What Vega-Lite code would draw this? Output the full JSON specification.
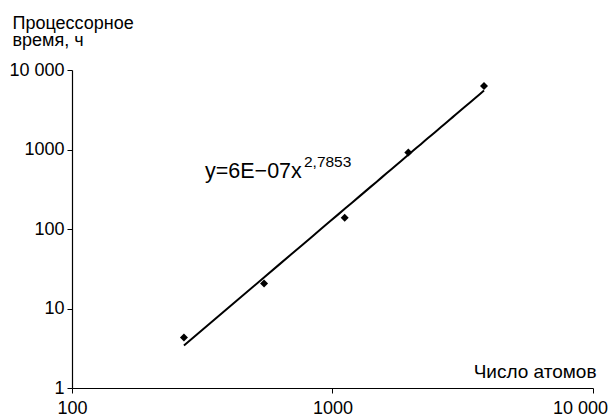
{
  "$schema": "https://vega.github.io/schema/vega-lite/v6.json",
  "autosize": "none",
  "width": 521,
  "height": 318,
  "padding": {"left": 72, "top": 70, "right": 18, "bottom": 28},
  "background": "white",
  "config": {
    "view": {"stroke": null},
    "font": "Liberation Sans",
    "axis": {
      "grid": false,
      "domainColor": "black",
      "domainWidth": 1.2,
      "tickColor": "black",
      "tickWidth": 1,
      "tickSize": 5,
      "labelColor": "black",
      "labelFont": "Liberation Sans",
      "labelFontSize": 18,
      "titleFont": "Liberation Sans",
      "titleFontSize": 18,
      "titleFontWeight": "normal",
      "titleColor": "black"
    }
  },
  "data": {
    "values": [
      {"atoms": 269, "time": 4.32},
      {"atoms": 546, "time": 20.6},
      {"atoms": 1114, "time": 138.6},
      {"atoms": 1954, "time": 918},
      {"atoms": 3816, "time": 6300}
    ]
  },
  "layer": [
    {
      "transform": [{"regression": "time", "on": "atoms", "method": "pow"}],
      "mark": {"type": "line", "color": "black", "strokeWidth": 2},
      "encoding": {
        "x": {"field": "atoms", "type": "quantitative"},
        "y": {"field": "time", "type": "quantitative"}
      }
    },
    {
      "mark": {"type": "point", "shape": "diamond", "filled": true, "color": "black", "size": 64, "opacity": 1},
      "encoding": {
        "x": {
          "field": "atoms",
          "type": "quantitative",
          "scale": {"type": "log", "domain": [100, 10000], "nice": false},
          "axis": {
            "values": [100, 1000, 10000],
            "title": "Число атомов",
            "titleFontSize": 19,
            "titleAlign": "right",
            "titleAnchor": null,
            "titleX": 524,
            "titleY": -11,
            "titleBaseline": "alphabetic",
            "labelPadding": 6,
            "labelFlush": false,
            "labelOverlap": false,
            "labelOffset": {"condition": {"test": "datum.value >= 10000", "value": -13}, "value": 0},
            "labelExpr": "datum.value >= 10000 ? '10 000' : format(datum.value, 'd')"
          }
        },
        "y": {
          "field": "time",
          "type": "quantitative",
          "scale": {"type": "log", "domain": [1, 10000], "nice": false},
          "axis": {
            "values": [1, 10, 100, 1000, 10000],
            "title": ["Процессорное", "время, ч"],
            "titleAngle": 0,
            "titleAlign": "left",
            "titleAnchor": null,
            "titleX": -60,
            "titleY": -42,
            "titleBaseline": "alphabetic",
            "titleLineHeight": 17,
            "labelPadding": 3,
            "labelOverlap": false,
            "labelExpr": "datum.value >= 10000 ? '10 000' : format(datum.value, 'd')"
          }
        }
      }
    },
    {
      "data": {"values": [{"label": "y=6E−07x", "sup": "2,7853"}]},
      "mark": {"type": "text", "align": "left", "baseline": "alphabetic", "fontSize": 21.5, "fontWeight": "normal", "color": "black", "font": "Liberation Sans"},
      "encoding": {
        "x": {"datum": 324, "type": "quantitative"},
        "y": {"datum": 441, "type": "quantitative"},
        "text": {"field": "label"}
      }
    },
    {
      "data": {"values": [{"label": "y=6E−07x", "sup": "2,7853"}]},
      "mark": {"type": "text", "align": "left", "baseline": "alphabetic", "fontSize": 15.5, "fontWeight": "normal", "color": "black", "font": "Liberation Sans"},
      "encoding": {
        "x": {"datum": 777, "type": "quantitative"},
        "y": {"datum": 606, "type": "quantitative"},
        "text": {"field": "sup"}
      }
    }
  ]
}
